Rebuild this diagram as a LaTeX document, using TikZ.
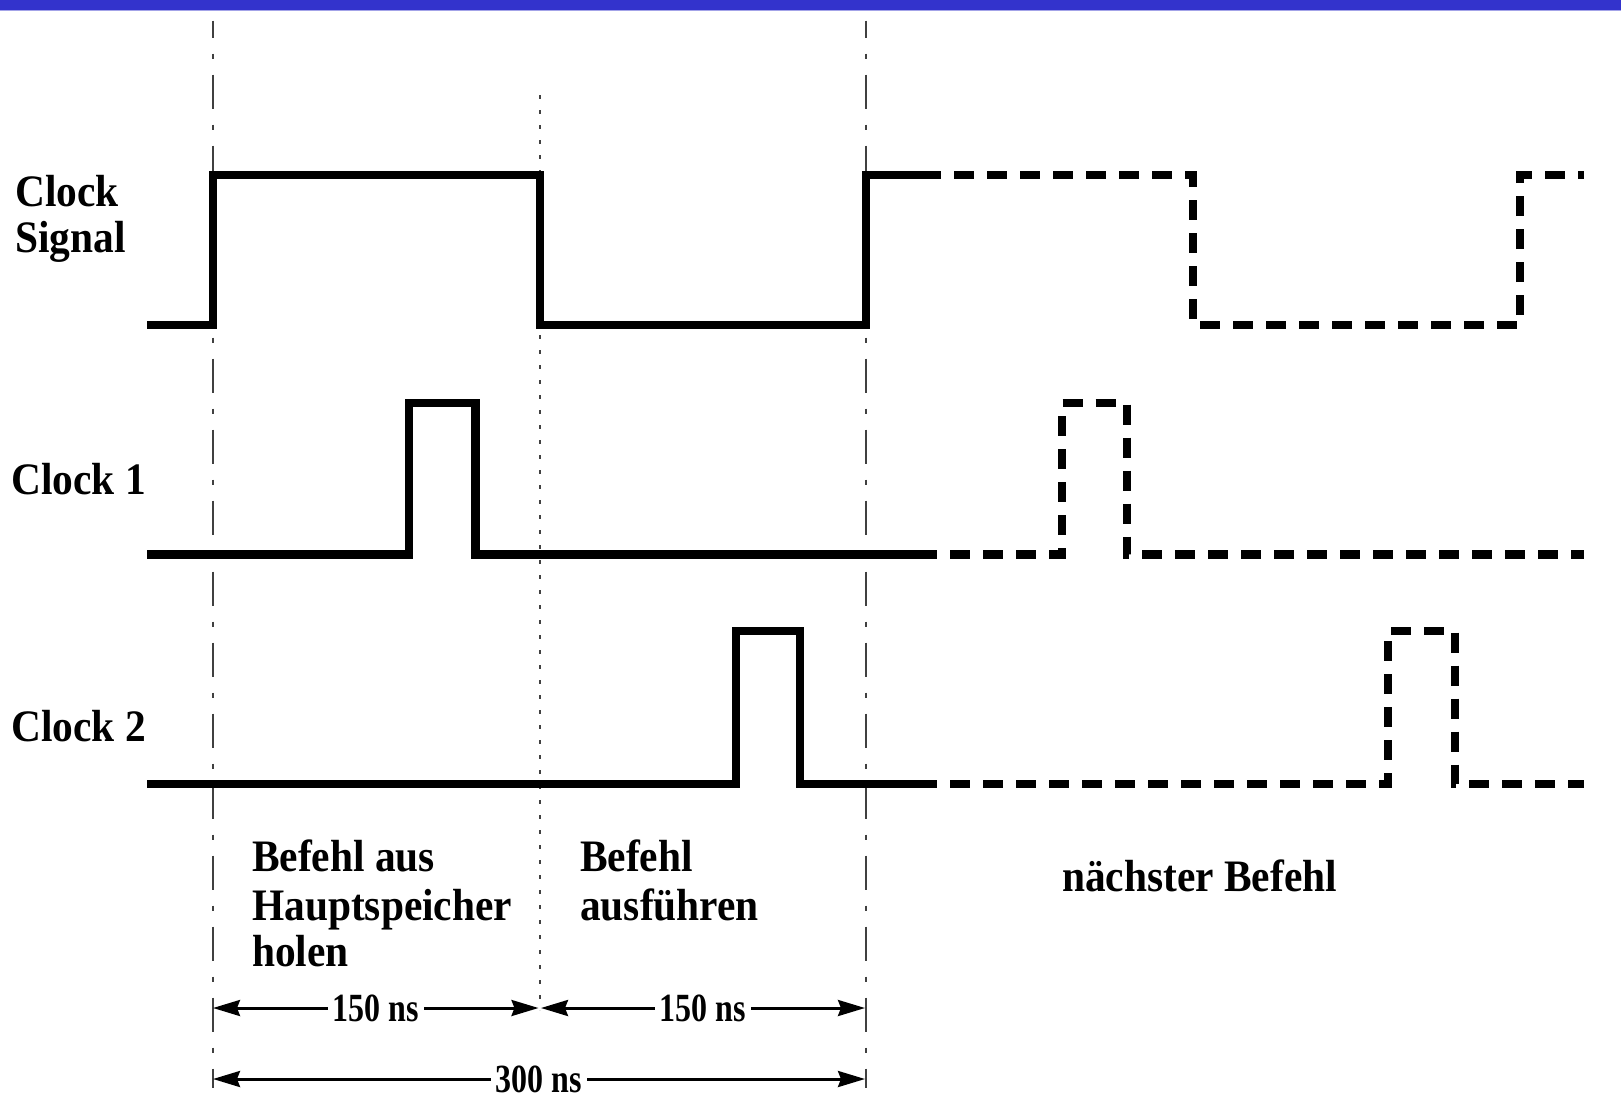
\documentclass[tikz,border=0pt]{standalone}
\usepackage{fontspec}
\newfontfamily\lab{Liberation Serif}[FakeStretch=0.92]
\newfontfamily\dimfont{Liberation Serif}[FakeStretch=0.8]
\usetikzlibrary{arrows.meta}
\definecolor{barblue}{RGB}{51,51,204}
\begin{document}
\begin{tikzpicture}[x=1pt,y=-1pt,
  wave/.style={line width=8.2pt, line join=miter},
  wavedash/.style={wave, dash pattern=on 20pt off 13pt, dash phase=20pt},
  guide/.style={line width=1.2pt, black!75, dash pattern=on 34pt off 16pt on 5pt off 16pt, dash phase=17pt},
  midguide/.style={line width=1.2pt, black!75, dash pattern=on 4pt off 11pt},
  lbl/.style={inner sep=0pt, anchor=base west, font=\lab\bfseries\fontsize{45}{47}\selectfont},
  dim/.style={line width=3pt, {Stealth[length=27pt,width=16pt,inset=3pt]}-{Stealth[length=27pt,width=16pt,inset=3pt]}},
  dimlbl/.style={fill=white, inner xsep=5pt, inner ysep=0pt, font=\dimfont\bfseries\fontsize{40}{42}\selectfont}
]
\useasboundingbox (0,0) rectangle (1621,1100);
% top bar
\fill[barblue] (0,0) rectangle (1621,9.5);
\fill[barblue!45] (0,9.5) rectangle (1621,11);

% guide lines
\coordinate (gLt) at (213,20.7);
\coordinate (gLb) at (213,1088);
\coordinate (gRt) at (866,20.7);
\coordinate (gRb) at (866,1088);
\coordinate (gMt) at (540,95);
\coordinate (gMb) at (540,1010);
\draw[guide] (gLt) -- (gLb);
\draw[guide] (gRt) -- (gRb);
\draw[midguide] (gMt) -- (gMb);

% Clock Signal
\draw[wave] (147,325) -- (213,325) -- (213,175) -- (540,175) -- (540,325) -- (866,325) -- (866,175) -- (941,175);
\draw[wavedash] (941,175) -- (1193,175) -- (1193,325) -- (1520,325) -- (1520,175) -- (1584,175);

% Clock 1
\draw[wave] (147,554.5) -- (409,554.5) -- (409,403) -- (475.5,403) -- (475.5,554.5) -- (937,554.5);
\draw[wavedash] (937,554.5) -- (1062,554.5) -- (1062,403) -- (1127,403) -- (1127,554.5) -- (1584,554.5);

% Clock 2
\draw[wave] (147,783.6) -- (736,783.6) -- (736,630.6) -- (800,630.6) -- (800,783.6) -- (937,783.6);
\draw[wavedash] (937,783.6) -- (1388,783.6) -- (1388,630.6) -- (1455,630.6) -- (1455,783.6) -- (1584,783.6);

% labels
\node[lbl] (cs1) at (15,206) {Clock};
\node[lbl] (cs2) at (15,252.5) {Signal};
\node[lbl] (c1) at (11,494) {Clock 1};
\node[lbl] (c2) at (11,741) {Clock 2};
\node[lbl] (f1) at (252,871.5) {Befehl aus};
\node[lbl] (f2) at (252,920) {Hauptspeicher};
\node[lbl] (f3) at (252,966.5) {holen};
\node[lbl] (e1) at (580,871.5) {Befehl};
\node[lbl] (e2) at (580,920) {ausführen};
\node[lbl] (n1) at (1062,891) {nächster Befehl};

% dimension arrows
\coordinate (d1a) at (213,1008);
\coordinate (d1b) at (538.5,1008);
\coordinate (d2a) at (541,1008);
\coordinate (d2b) at (865,1008);
\coordinate (d3a) at (213,1079);
\coordinate (d3b) at (865,1079);
\draw[dim] (d1a) -- node[dimlbl] (t1) {150 ns} (d1b);
\draw[dim] (d2a) -- node[dimlbl] (t2) {150 ns} (d2b);
\draw[dim] (d3a) -- node[dimlbl] (t3) {300 ns} (d3b);
\end{tikzpicture}
\end{document}
